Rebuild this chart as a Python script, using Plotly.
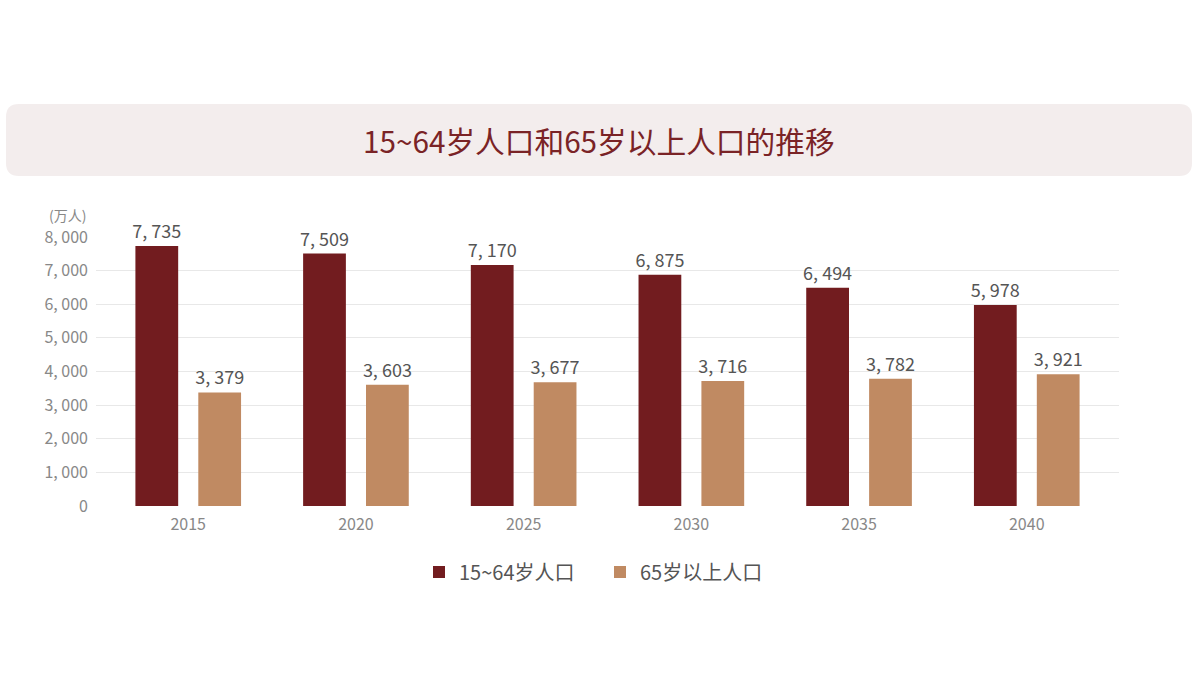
import plotly.graph_objects as go

# 数据
years = ["2015", "2020", "2025", "2030", "2035", "2040"]
working_age = [7735, 7509, 7170, 6875, 6494, 5978]
elderly = [3379, 3603, 3677, 3716, 3782, 3921]
y_ticks = [0, 1000, 2000, 3000, 4000, 5000, 6000, 7000, 8000]

FONT = "Noto Sans CJK SC"
DARK = "#721c1f"
LIGHT = "#c08a62"


def fmt(v):
    # 千位分隔符后留一点空隙, 与原图一致
    return f"{v:,}".replace(",", ", ")


fig = go.Figure()

fig.add_trace(go.Bar(
    x=years, y=working_age, name="15~64岁人口",
    marker=dict(color=DARK, line=dict(width=0)),
    text=[fmt(v) for v in working_age], textposition="outside",
    textfont=dict(size=18, color="#555555", family=FONT),
    constraintext="none", cliponaxis=False,
))
fig.add_trace(go.Bar(
    x=years, y=elderly, name="65岁以上人口",
    marker=dict(color=LIGHT, line=dict(width=0)),
    text=[fmt(v) for v in elderly], textposition="outside",
    textfont=dict(size=18, color="#555555", family=FONT),
    constraintext="none", cliponaxis=False,
))

# 像素坐标 -> paper 坐标
L, R, T, B = 96, 81, 237, 169
pw, ph = 1200 - L - R, 675 - T - B


def px(x):
    return (x - L) / pw


def py(y):
    return (675 - B - y) / ph


# 圆角标题框
x0, x1, y0, y1, r = 6, 1192, 104, 176, 13
title_box = (f"M {px(x0 + r)},{py(y0)} L {px(x1 - r)},{py(y0)} "
             f"Q {px(x1)},{py(y0)} {px(x1)},{py(y0 + r)} L {px(x1)},{py(y1 - r)} "
             f"Q {px(x1)},{py(y1)} {px(x1 - r)},{py(y1)} L {px(x0 + r)},{py(y1)} "
             f"Q {px(x0)},{py(y1)} {px(x0)},{py(y1 - r)} L {px(x0)},{py(y0 + r)} "
             f"Q {px(x0)},{py(y0)} {px(x0 + r)},{py(y0)} Z")

fig.update_layout(
    width=1200, height=675,
    paper_bgcolor="white", plot_bgcolor="white",
    font=dict(family=FONT, color="#888888"),
    margin=dict(l=L, r=R, t=T, b=B),
    barmode="group", bargap=0.25, bargroupgap=0.32,
    showlegend=True,
    legend=dict(orientation="h", x=px(419), xanchor="left", y=py(572), yanchor="middle",
                font=dict(size=20, color="#555555"), itemwidth=30,
                entrywidth=136, traceorder="normal"),
    xaxis=dict(type="category", range=[-0.55, 5.55], showgrid=False,
               showline=False, ticks="", ticklabelstandoff=7,
               tickfont=dict(size=16, color="#888888")),
    yaxis=dict(range=[0, 8000], tickvals=y_ticks, ticktext=[fmt(v) for v in y_ticks],
               showgrid=True, gridcolor="#e8e8e8", gridwidth=1,
               zeroline=False, showline=False, ticks="", ticklabelstandoff=7,
               tickfont=dict(size=16, color="#888888")),
    shapes=[dict(type="path", xref="paper", yref="paper", layer="below",
                 path=title_box, fillcolor="#f3eded", line=dict(width=0))],
)

fig.add_annotation(
    text="15~64岁人口和65岁以上人口的推移", xref="paper", yref="paper",
    x=px(599), y=py(140), xanchor="center", yanchor="middle",
    showarrow=False, font=dict(size=29.7, color="#7a2326", family=FONT),
)
fig.add_annotation(
    text="(万人)", xref="paper", yref="paper",
    x=px(88), y=py(215), xanchor="right", yanchor="middle",
    showarrow=False, font=dict(size=14, color="#888888", family=FONT),
)

# 去掉页面默认的 8px 边距
fig.write_html("out.html", config={"displayModeBar": False},
               post_script="document.body.style.margin='0';")
